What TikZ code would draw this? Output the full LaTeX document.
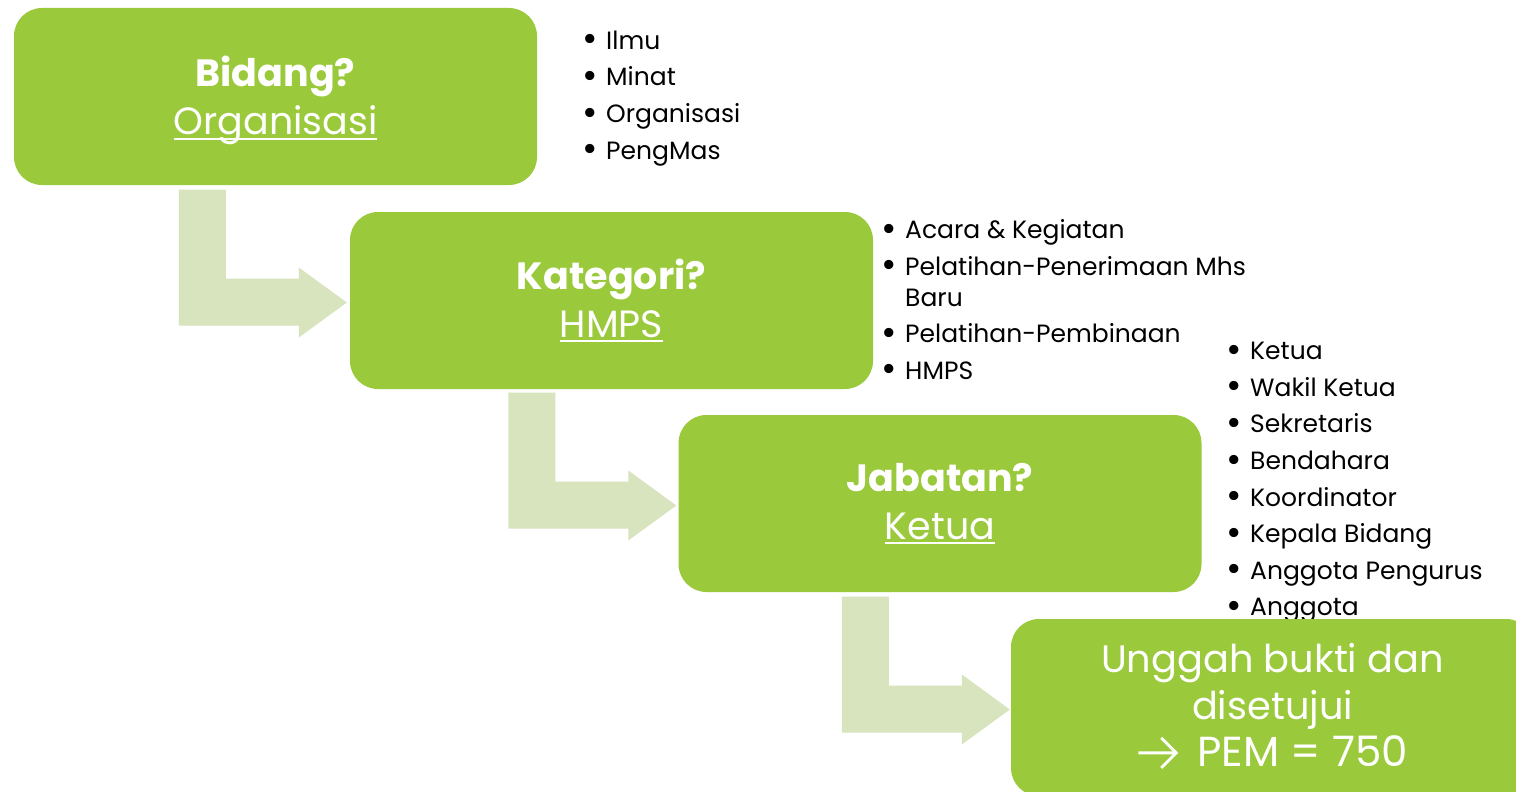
\documentclass[tikz,border=0pt]{standalone}
\usepackage{fontspec}
\setmainfont{Poppins}
\newfontfamily\dejavu{DejaVu Sans}
\usetikzlibrary{calc}
\definecolor{boxgreen}{RGB}{154,202,60}
\definecolor{arrowgreen}{RGB}{215,228,189}
\newcommand\myul[1]{\setbox0\hbox{#1}\rlap{\rule[-5pt]{\wd0}{2pt}}\box0}
\newcommand\bl{\makebox[24pt][l]{\raisebox{-2.6pt}{\scalebox{1.5}{\textbullet}}}}
\newcommand\shiftln[2]{\raisebox{#1}[\height][\depth]{#2}}
\newcommand\bigarrow{\tikz[baseline=-14pt]{\draw[white,sharp corners,line width=2.8pt,line cap=butt,line join=miter] (0pt,0pt) -- (38pt,0pt) (23pt,15pt) -- (38pt,0pt) -- (23pt,-15pt);}}
\newcommand\bentarr[1]{\fill[arrowgreen] (#1) -- ++(-48,-35) -- ++(0,11) -- ++(-73,0) -- ++(0,-89) -- ++(-47,0) -- ++(0,136) -- ++(120,0) -- ++(0,12) -- cycle;}
\begin{document}
\begin{tikzpicture}[x=1pt,y=-1pt,
  box/.style={fill=boxgreen, rounded corners=28pt, minimum width=523pt, minimum height=177pt,
    inner sep=0pt, align=center, text=white, font=\fontsize{38}{48}\selectfont},
  lastbox/.style={box, font=\fontsize{38.3}{47}\selectfont},
  blist/.style={anchor=north west, inner sep=0pt, align=left, text=black,
    font=\fontsize{25}{36.6}\selectfont}]
\useasboundingbox (0,0) rectangle (1516,792);
\clip (0,0) rectangle (1516,792);
\fill[white] (0,0) rectangle (1516,792);

\node[blist] (l1) at (582,30.5) {\bl Ilmu\\ \bl Minat\\ \bl Organisasi\\ \bl PengMas};
\node[blist] (l2) at (881,219.5) {\bl Acara \& Kegiatan\\ \bl Pelatihan-Penerimaan Mhs\\[-5.5pt] \hspace*{24pt}Baru\\[-0.6pt] \bl Pelatihan-Pembinaan\\ \bl HMPS};
\node[blist] (l3) at (1226,342) {\bl Ketua\\ \bl Wakil Ketua\\ \bl Sekretaris\\ \bl Bendahara\\ \bl Koordinator\\ \bl Kepala Bidang\\ \bl Anggota Pengurus\\ \bl Anggota};

\node[box] (b1) at (275.5,96.5) {\shiftln{-4pt}{\bfseries Bidang?}\\\shiftln{-4pt}{\myul{Organisasi}}};
\node[box] (b2) at (611.5,300.5) {{\bfseries Kategori?}\\\myul{HMPS}};
\node[box] (b3) at (940,503.5) {{\bfseries Jabatan?}\\\myul{Ketua}};
\node[lastbox] (b4) at (1272.5,707.5) {\shiftln{1pt}{Unggah bukti dan}\\\shiftln{1pt}{disetujui}\\\shiftln{1pt}{\fontsize{42}{47}\selectfont\bigarrow\hspace{20pt}PEM = 750}};

\bentarr{$(b2.west)+(-3,2)$}
\bentarr{$(b3.west)+(-2,2)$}
\bentarr{$(b4.west)+(-1,2)$}
\end{tikzpicture}
\end{document}
